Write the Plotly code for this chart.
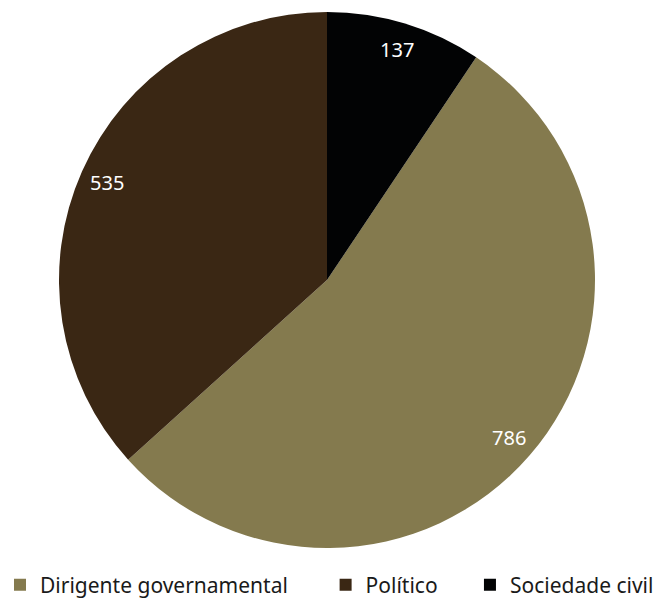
import math
import plotly.graph_objects as go

# Slices listed in legend order; the pie is rotated so "Sociedade civil" sits at 12 o'clock
labels = ["Dirigente governamental", "Político", "Sociedade civil"]
values = [786, 535, 137]
colors = ["#847A4E", "#3A2714", "#020304"]

W, H = 657, 599
margin = dict(l=0, r=3, t=12, b=51, autoexpand=False)
plot_w = W - margin["l"] - margin["r"]
plot_h = H - margin["t"] - margin["b"]
radius = min(plot_w, plot_h) / 2

total = sum(values)
rotation = values[-1] / total * 360  # clockwise offset of the first slice from 12 o'clock

# Legend entries padded with non-breaking spaces for wider spacing between items
pads = [6, 5, 0]
legend_labels = [lab + "\u00a0" * p for lab, p in zip(labels, pads)]

fig = go.Figure(
    go.Pie(
        labels=legend_labels,
        values=values,
        sort=False,
        direction="clockwise",
        rotation=rotation,
        marker=dict(colors=colors, line=dict(width=0)),
        textinfo="none",
        hoverinfo="label+value",
    )
)

# Value labels placed near the rim at each slice's mid-angle
start = rotation
annotations = []
for lab, val in zip(labels, values):
    span = val / total * 360
    mid = math.radians(start + span / 2)
    r = 0.9 * radius
    annotations.append(
        dict(
            x=0.5 + r * math.sin(mid) / plot_w,
            y=0.5 + r * math.cos(mid) / plot_h,
            xref="paper",
            yref="paper",
            xanchor="center",
            yanchor="middle",
            text=str(val),
            showarrow=False,
            font=dict(color="white", size=20, family="Noto Sans"),
        )
    )
    start += span

fig.update_layout(
    width=W,
    height=H,
    margin=margin,
    paper_bgcolor="white",
    plot_bgcolor="white",
    annotations=annotations,
    legend=dict(
        orientation="h",
        x=0,
        xanchor="left",
        y=-0.031,
        yanchor="top",
        font=dict(size=21, family="Noto Sans", color="#1a1a1a"),
        itemsizing="constant",
    ),
)

fig.write_html("out.html")
